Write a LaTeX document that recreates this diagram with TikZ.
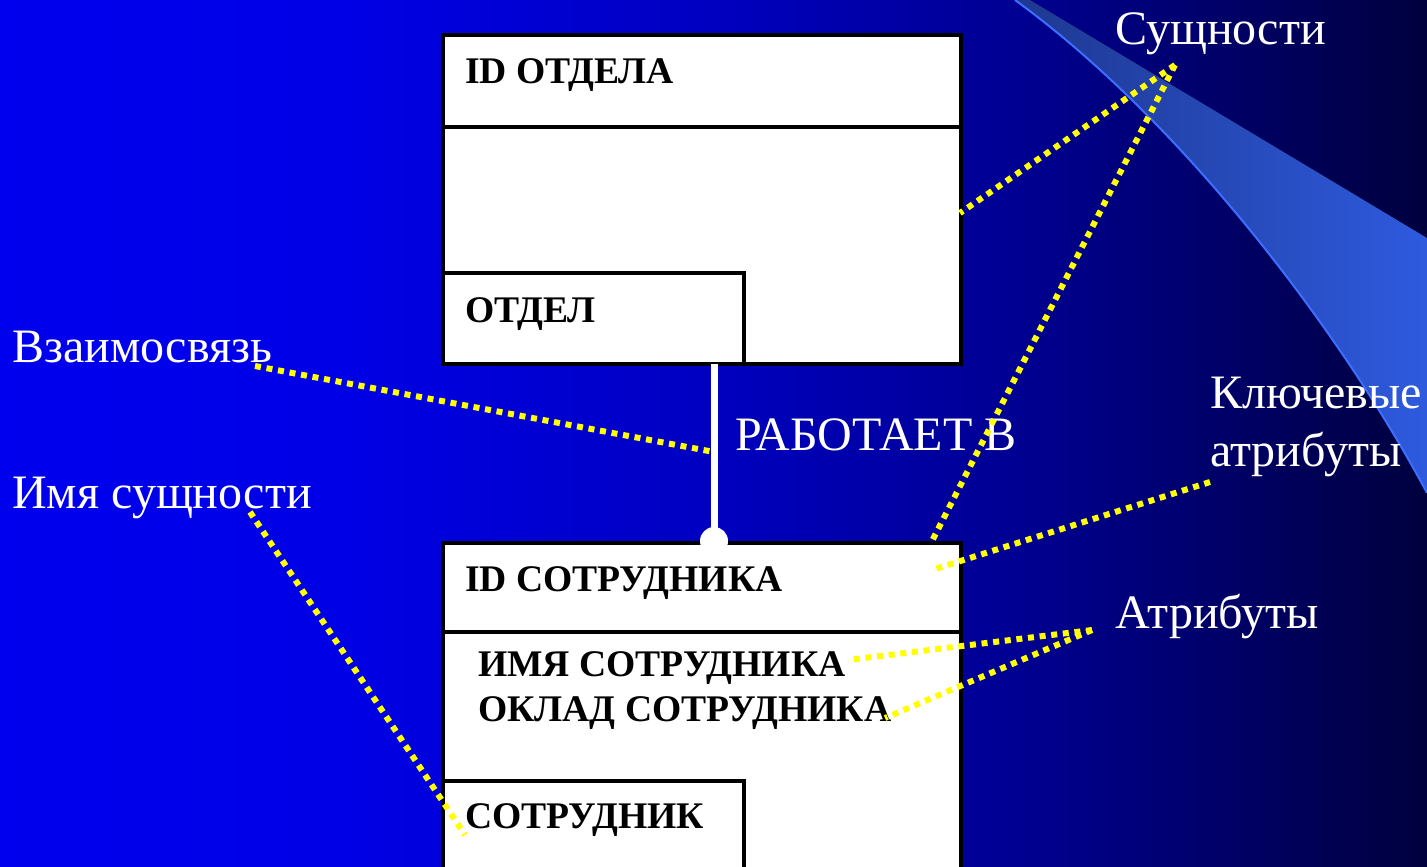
\documentclass[tikz,border=0pt]{standalone}
\usepackage{fontspec}
\setmainfont{Liberation Serif}
\definecolor{bgA}{RGB}{0,0,238}
\definecolor{bgB}{RGB}{0,0,230}
\definecolor{bgC}{RGB}{0,0,192}
\definecolor{bgD}{RGB}{0,0,144}
\definecolor{bgE}{RGB}{0,0,62}
\definecolor{swA}{RGB}{30,56,145}
\definecolor{swB}{RGB}{46,90,222}
\definecolor{swEdge}{RGB}{60,110,255}
\definecolor{ptr}{RGB}{255,255,0}
\pgfdeclarehorizontalshading{slidebg}{100bp}{color(0bp)=(bgA); color(25bp)=(bgA); color(37bp)=(bgB); color(50bp)=(bgC); color(61bp)=(bgD); color(75bp)=(bgE); color(100bp)=(bgE)}
\begin{document}
\begin{tikzpicture}[x=1pt,y=-1pt,
  entbox/.style={draw=black, line width=4pt, fill=white, inner sep=0pt, anchor=north west},
  boxtext/.style={font=\fontsize{37.6}{40}\selectfont\bfseries, text=black, anchor=base west, inner sep=0pt},
  notetext/.style={font=\fontsize{48}{52}\selectfont, text=white, anchor=base west, inner sep=0pt},
  relline/.style={white, line width=7pt},
  pointer/.style={ptr, line width=6pt, dash pattern=on 6pt off 5.7pt}]
\useasboundingbox (0,0) rectangle (1427,867);
\clip (0,0) rectangle (1427,867);

% slide background
\fill[shading=slidebg] (0,0) rectangle (1427,867);

% decorative swoosh in the upper right corner
\fill[left color=swA, right color=swB] (1030,0) -- (1427,238) -- (1427,493)
  .. controls (1340,330) and (1180,120) .. (1015,0) -- cycle;
\draw[swEdge, line width=2pt] (1015,0) .. controls (1180,120) and (1340,330) .. (1427,493);

% entity ОТДЕЛ
\node[entbox, minimum width=518pt, minimum height=329pt] (dept) at (441,33) {};
\node[entbox, minimum width=518pt, minimum height=92pt] (deptkey) at (441,33) {};
\node[entbox, minimum width=301pt, minimum height=91pt] (deptname) at (441,271) {};
\node[boxtext] (deptid) at (465,84) {ID ОТДЕЛА};
\node[boxtext] (deptlbl) at (465,322) {ОТДЕЛ};

% entity СОТРУДНИК
\node[entbox, minimum width=518pt, minimum height=345pt] (emp) at (441,541) {};
\node[entbox, minimum width=518pt, minimum height=89pt] (empkey) at (441,541) {};
\node[entbox, minimum width=301pt, minimum height=100pt] (empname) at (441,779) {};
\node[boxtext] (empid) at (465,591) {ID СОТРУДНИКА};
\node[boxtext] (empattr1) at (478,676) {ИМЯ СОТРУДНИКА};
\node[boxtext] (empattr2) at (478,721) {ОКЛАД СОТРУДНИКА};
\node[boxtext] (emplbl) at (465,828) {СОТРУДНИК};

% relationship line
\coordinate (relTop) at (714,364);
\coordinate (relBot) at (714,541);
\coordinate (relMid) at (714,452);
\draw[relline] (relTop) -- (relBot);
\fill[white] (relBot) circle (14);
\node[notetext] (reltext) at (735,450) {РАБОТАЕТ В};

% annotations
\node[notetext] (nEnt) at (1115,45) {Сущности};
\node[notetext] (nRel) at (12,362) {Взаимосвязь};
\node[notetext] (nKey1) at (1210,408) {Ключевые};
\node[notetext] (nKey2) at (1210,466) {атрибуты};
\node[notetext] (nName) at (12,508) {Имя сущности};
\node[notetext] (nAttr) at (1115,628) {Атрибуты};

% pointer ends
\coordinate (aEnt) at (1175,65);
\coordinate (aRel) at (255,366);
\coordinate (aKey) at (1210,482);
\coordinate (aName) at (250,512);
\coordinate (aAttr) at (1092,630);
\coordinate (tDept) at (960,213);
\coordinate (tEmp) at (932,541);
\coordinate (tKey) at (932,570);
\coordinate (tAttr1) at (848,660);
\coordinate (tAttr2) at (885,718);
\coordinate (tName) at (465,835);

\draw[pointer] (aEnt) -- (tDept);
\draw[pointer] (aEnt) -- (tEmp);
\draw[pointer] (aRel) -- (relMid);
\draw[pointer] (aKey) -- (tKey);
\draw[pointer] (aAttr) -- (tAttr1);
\draw[pointer] (aAttr) -- (tAttr2);
\draw[pointer] (aName) -- (tName);
\end{tikzpicture}
\end{document}
